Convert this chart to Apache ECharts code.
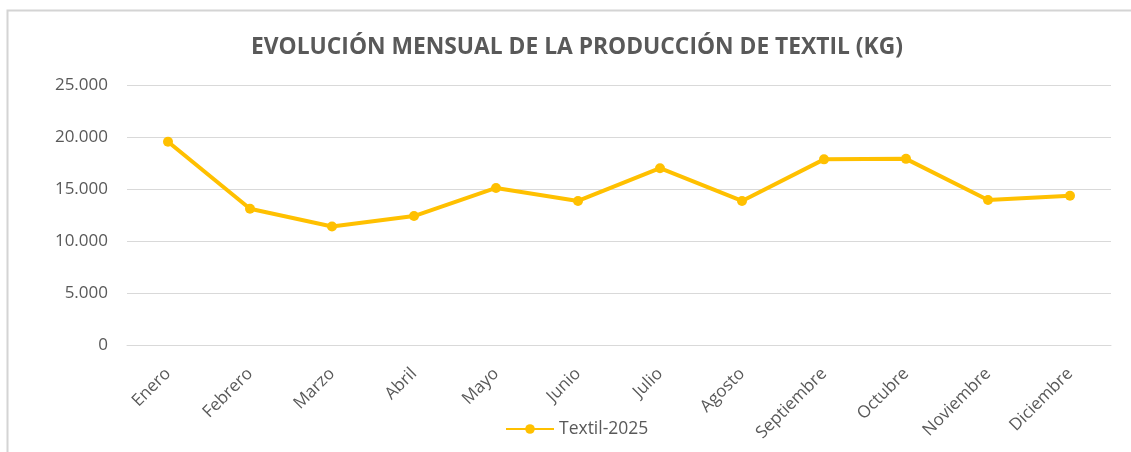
<!DOCTYPE html>
<html><head><meta charset="utf-8">
<script src="https://cdn.jsdelivr.net/npm/echarts@6/dist/echarts.min.js"></script>
<style>html,body{margin:0;padding:0;background:#fff}#c{width:1131px;height:452px}</style>
</head><body><div id="c"></div>
<script>
const categories = ['Enero','Febrero','Marzo','Abril','Mayo','Junio','Julio','Agosto','Septiembre','Octubre','Noviembre','Diciembre'];
const textil2025 = [19550, 13100, 11400, 12400, 15100, 13850, 17000, 13850, 17850, 17900, 13950, 14350];
const seriesName = 'Textil-2025';
const titleText = 'EVOLUCIÓN MENSUAL DE LA PRODUCCIÓN DE TEXTIL (KG)';
const yTicks = [0, 5000, 10000, 15000, 20000, 25000];

function fmt(v){ return String(v).replace(/\B(?=(\d{3})+(?!\d))/g, '.'); }

const chart = echarts.init(document.getElementById('c'), null, {renderer:'canvas'});
chart.setOption({
  animation:false,
  backgroundColor:'#fff',
  graphic:[{type:'rect', shape:{x:7.5,y:10.5,width:1140,height:460}, style:{fill:'none', stroke:'#d4d4d4', lineWidth:2}, silent:true}],
  title:{text:titleText, left:246, top:31, textStyle:{fontFamily:'Open Sans, sans-serif', fontWeight:'bold', fontSize:22.8, color:'#595959'}},
  grid:{left:127, right:20, top:85, bottom:107, containLabel:false},
  legend:{top:415, left:500, itemWidth:48, itemHeight:12, itemGap:10, textStyle:{fontFamily:'Open Sans, sans-serif', fontSize:17.5, color:'#595959'}, data:[seriesName]},
  xAxis:{type:'category', data:categories, boundaryGap:true,
    axisLine:{show:true, lineStyle:{color:'#d9d9d9', width:1}}, axisTick:{show:false},
    axisLabel:{rotate:45, margin:26, interval:0, fontFamily:'Open Sans, sans-serif', fontSize:17, color:'#595959'}},
  yAxis:{type:'value', min:yTicks[0], max:yTicks[yTicks.length-1], interval:5000,
    axisLine:{show:false}, axisTick:{show:false},
    splitLine:{lineStyle:{color:'#d9d9d9', width:1}},
    axisLabel:{margin:19, formatter:fmt, fontFamily:'Open Sans, sans-serif', fontSize:17, color:'#595959'}},
  series:[{name:seriesName, type:'line', data:textil2025, color:'#FFC000',
    lineStyle:{width:4, color:'#FFC000'}, symbol:'circle', symbolSize:10,
    itemStyle:{color:'#FFC000'}}]
});
</script></body></html>
